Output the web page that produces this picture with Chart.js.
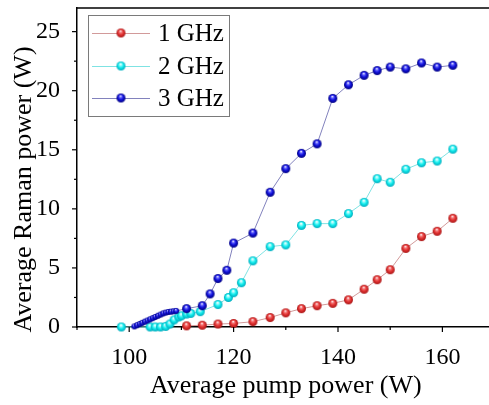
<!DOCTYPE html>
<html>
<head>
<meta charset="utf-8">
<script src="https://cdn.jsdelivr.net/npm/chart.js@4/dist/chart.umd.min.js"></script>
<style>
  html, body { margin: 0; padding: 0; background: #fff; overflow: hidden; }
  canvas { display: block; }
</style>
</head>
<body>
<canvas id="raman" width="500" height="405"></canvas>
<script>
// pump power (W) and Raman output (W) for each modulation frequency
const seriesLabels = ['1 GHz', '2 GHz', '3 GHz'];

const pump1 = [111, 114, 117, 120, 123.7, 127, 130, 133, 136, 139, 142, 145, 147.5, 150, 153, 156, 159, 162];
const raman1 = [0.1, 0.15, 0.25, 0.3, 0.45, 0.8, 1.2, 1.55, 1.8, 2.0, 2.3, 3.2, 4.0, 4.85, 6.65, 7.65, 8.1, 9.2];

const pump2 = [98.5, 104, 105, 106, 107, 107.8, 108.6, 109.5, 110, 111, 111.8, 113.6, 117, 119, 120, 121.5,
  123.7, 127, 130, 133, 136, 139, 142, 145, 147.5, 150, 153, 156, 159, 162];
const raman2 = [0, 0, 0, 0, 0.05, 0.25, 0.6, 0.85, 0.95, 1.1, 1.15, 1.3, 1.9, 2.5, 2.9, 3.75,
  5.6, 6.8, 6.95, 8.6, 8.75, 8.75, 9.6, 10.55, 12.55, 12.25, 13.35, 13.9, 14.05, 15.05];

const pump3 = [101, 101.5, 102, 102.5, 103, 103.5, 104, 104.5, 105, 105.5, 106, 106.5, 107, 107.5, 108, 108.5, 109,
  111, 114, 115.5, 117, 118.7, 120, 123.7, 127, 130, 133, 136, 139, 142, 145, 147.5, 150, 153, 156, 159, 162];
const raman3 = [0.05, 0.15, 0.25, 0.35, 0.45, 0.55, 0.65, 0.75, 0.85, 0.95, 1.05, 1.15, 1.22, 1.27, 1.3, 1.33, 1.36,
  1.55, 1.8, 2.8, 4.1, 4.8, 7.1, 7.95, 11.4, 13.4, 14.7, 15.5, 19.35, 20.5, 21.3, 21.7, 22.0, 21.85, 22.35, 22.0, 22.15];

const FONT = "'Liberation Serif', 'Times New Roman', serif";

// shaded sphere sprite used as the point marker
function ball(light, base, dark, r) {
  const s = Math.ceil(r * 2 + 2);
  const c = document.createElement('canvas');
  c.width = c.height = s;
  const g = c.getContext('2d');
  const cx = s / 2, cy = s / 2;
  const grad = g.createRadialGradient(cx - r * 0.1, cy - r * 0.45, r * 0.05, cx, cy, r);
  grad.addColorStop(0, '#ffffff');
  grad.addColorStop(0.22, light);
  grad.addColorStop(0.55, base);
  grad.addColorStop(1, dark);
  g.fillStyle = grad;
  g.beginPath();
  g.arc(cx, cy, r, 0, Math.PI * 2);
  g.fill();
  return c;
}

const redBall = ball('#f48080', '#e53535', '#a81414', 4.5);
const cyanBall = ball('#9ffcfc', '#12eeee', '#00a9bb', 4.5);
const blueBall = ball('#6a6aff', '#1212dd', '#000080', 4.5);
const blueSmall = ball('#6a6aff', '#1212dd', '#000080', 3);

function toPoints(xs, ys) {
  return xs.map((x, i) => ({ x: x, y: ys[i] }));
}

// outward major/minor ticks, top frame line, axis titles and the framed legend
const decor = {
  id: 'decor',
  afterDraw(chart) {
    const ctx = chart.ctx;
    const area = chart.chartArea;
    const xs = chart.scales.x, ys = chart.scales.y;
    ctx.save();
    ctx.strokeStyle = '#000';
    ctx.lineWidth = 1.5;
    ctx.beginPath();
    ctx.moveTo(area.left - 0.75, area.top);
    ctx.lineTo(area.right, area.top);
    ctx.stroke();

    ctx.lineWidth = 1.2;
    xs.ticks.forEach(t => {
      if (t.value >= xs.max) return;
      const px = xs.getPixelForValue(t.value);
      const len = t.value % 20 === 0 ? 5 : 3;
      ctx.beginPath();
      ctx.moveTo(px, area.bottom);
      ctx.lineTo(px, area.bottom + len);
      ctx.stroke();
    });
    ys.ticks.forEach(t => {
      if (Math.abs(t.value / 2.5 - Math.round(t.value / 2.5)) > 1e-6) return;
      const py = ys.getPixelForValue(t.value);
      const len = t.value % 5 === 0 ? 5 : 3;
      ctx.beginPath();
      ctx.moveTo(area.left, py);
      ctx.lineTo(area.left - len, py);
      ctx.stroke();
    });

    ctx.fillStyle = '#000';
    ctx.font = '26px ' + FONT;
    ctx.textAlign = 'center';
    ctx.textBaseline = 'alphabetic';
    ctx.fillText('Average pump power (W)', (area.left + area.right) / 2, 393);

    ctx.save();
    ctx.translate(31, 189.5);
    ctx.rotate(-Math.PI / 2);
    ctx.fillText('Average Raman power (W)', 0, 0);
    ctx.restore();

    // legend box
    ctx.strokeStyle = '#7a7a7a';
    ctx.lineWidth = 1;
    ctx.strokeRect(88.5, 15.5, 141, 101);
    const rows = [33, 66, 98];
    const sprites = [redBall, cyanBall, blueBall];
    ctx.font = '25px ' + FONT;
    ctx.textAlign = 'left';
    ctx.textBaseline = 'middle';
    chart.data.datasets.forEach((ds, i) => {
      const y = rows[i];
      ctx.strokeStyle = ds.borderColor;
      ctx.lineWidth = 1;
      ctx.beginPath();
      ctx.moveTo(92, y + 0.5);
      ctx.lineTo(150, y + 0.5);
      ctx.stroke();
      const sp = sprites[i];
      ctx.drawImage(sp, 121 - sp.width / 2, y - sp.height / 2);
      ctx.fillStyle = '#000';
      ctx.fillText(seriesLabels[i], 158, y + 1);
    });
    ctx.restore();
  }
};

new Chart(document.getElementById('raman'), {
  type: 'line',
  data: {
    datasets: [
      {
        label: seriesLabels[0],
        data: toPoints(pump1, raman1),
        borderColor: '#d29a9a',
        borderWidth: 1,
        pointStyle: redBall,
        order: 2,
        clip: false
      },
      {
        label: seriesLabels[1],
        data: toPoints(pump2, raman2),
        borderColor: '#7fe3e3',
        borderWidth: 1,
        pointStyle: cyanBall,
        order: 1,
        clip: false
      },
      {
        label: seriesLabels[2],
        data: toPoints(pump3, raman3),
        borderColor: '#8282bd',
        borderWidth: 1,
        pointStyle: ctx => (ctx.raw && ctx.raw.x < 110 ? blueSmall : blueBall),
        order: 0,
        clip: false
      }
    ]
  },
  options: {
    responsive: false,
    animation: false,
    devicePixelRatio: 1,
    layout: { padding: { top: 8, right: 5.4, left: 0, bottom: 0 } },
    plugins: { legend: { display: false }, tooltip: { enabled: false } },
    scales: {
      x: {
        type: 'linear',
        min: 90,
        max: 170,
        grid: { display: false },
        border: { display: true, color: '#000', width: 1.5 },
        ticks: {
          stepSize: 10,
          includeBounds: false,
          autoSkip: false,
          maxRotation: 0,
          padding: 8,
          color: '#000',
          font: { family: FONT, size: 24 },
          callback: v => (v % 20 === 0 ? String(v) : '')
        },
        afterFit: s => { s.height = 78; s.paddingLeft = 0; s.paddingRight = 0; }
      },
      y: {
        min: 0,
        max: 27,
        grid: { display: false },
        border: { display: true, color: '#000', width: 1.5 },
        ticks: {
          stepSize: 2.5,
          includeBounds: false,
          autoSkip: false,
          padding: 9,
          color: '#000',
          font: { family: FONT, size: 24 },
          callback: v => (v % 5 === 0 ? String(v) : '')
        },
        afterFit: s => { s.width = 77; s.paddingTop = 0; s.paddingBottom = 0; }
      }
    }
  },
  plugins: [decor]
});
</script>
</body>
</html>
